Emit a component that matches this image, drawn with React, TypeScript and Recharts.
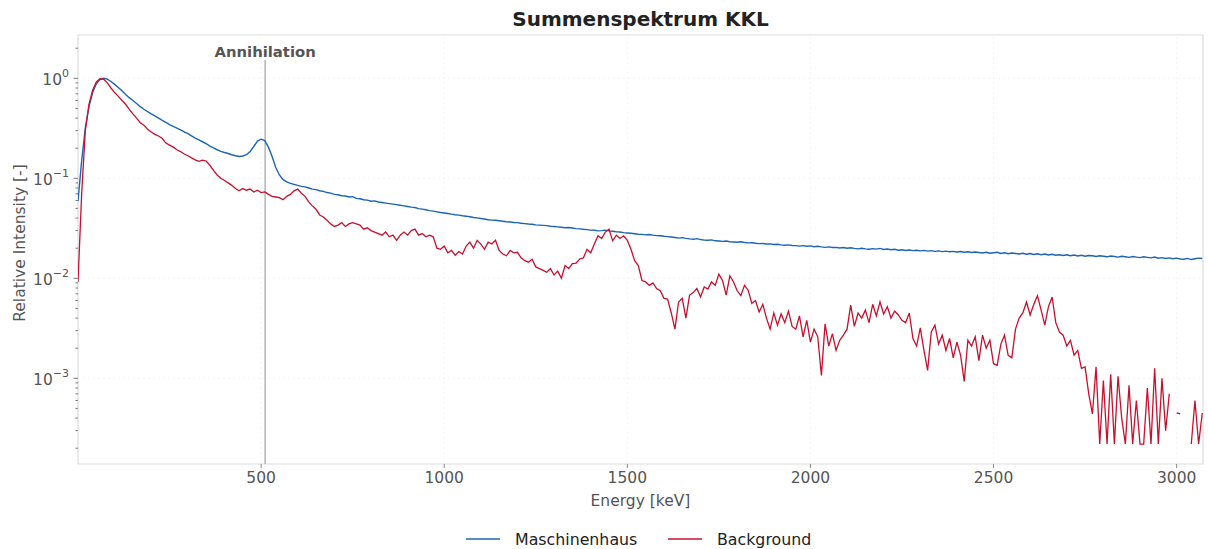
import React from 'react';
import { LineChart, Line, XAxis, YAxis, ReferenceLine, ReferenceArea } from 'recharts';

// Energy channels (keV): first channel and spacing
const ENERGY_START = 0;
const ENERGY_STEP = 10;

// Relative intensity, Maschinenhaus (one row = 100 keV)
const MASCHINENHAUS = [
  0.059, 0.15, 0.32, 0.52, 0.72, 0.88, 0.97, 1.0, 0.98, 0.93, // 0
  0.87, 0.81, 0.75, 0.69, 0.64, 0.6, 0.56, 0.52, 0.49, 0.465, // 100
  0.44, 0.42, 0.4, 0.38, 0.362, 0.345, 0.33, 0.318, 0.305, 0.292, // 200
  0.28, 0.266, 0.252, 0.242, 0.232, 0.222, 0.21, 0.201, 0.193, 0.186, // 300
  0.181, 0.177, 0.172, 0.168, 0.165, 0.167, 0.172, 0.185, 0.208, 0.236, // 400
  0.246, 0.238, 0.205, 0.165, 0.128, 0.108, 0.097, 0.092, 0.089, 0.087, // 500
  0.085, 0.083, 0.082, 0.08, 0.078, 0.077, 0.075, 0.074, 0.072, 0.071, // 600
  0.069, 0.0685, 0.067, 0.0665, 0.065, 0.0655, 0.063, 0.0625, 0.061, 0.0605, // 700
  0.059, 0.0595, 0.058, 0.0572, 0.0565, 0.0558, 0.0552, 0.0545, 0.0538, 0.053, // 800
  0.0522, 0.0515, 0.051, 0.0498, 0.0492, 0.0485, 0.0475, 0.047, 0.0462, 0.0455, // 900
  0.045, 0.0445, 0.0438, 0.0432, 0.0428, 0.0422, 0.0418, 0.0412, 0.0405, 0.0402, // 1000
  0.0396, 0.0392, 0.0385, 0.0382, 0.038, 0.0376, 0.0372, 0.0368, 0.0366, 0.0362, // 1100
  0.036, 0.0355, 0.0352, 0.0349, 0.0347, 0.0342, 0.034, 0.0338, 0.0336, 0.0332, // 1200
  0.033, 0.0327, 0.0324, 0.032, 0.0322, 0.0318, 0.0314, 0.0312, 0.0309, 0.0307, // 1300
  0.0303, 0.0302, 0.0298, 0.03, 0.0303, 0.0298, 0.0295, 0.0292, 0.029, 0.0286, // 1400
  0.0284, 0.0282, 0.0279, 0.0276, 0.0275, 0.0272, 0.0274, 0.027, 0.0267, 0.0266, // 1500
  0.0263, 0.0261, 0.0259, 0.0256, 0.0252, 0.0255, 0.0251, 0.0248, 0.0246, 0.0249, // 1600
  0.0244, 0.0241, 0.024, 0.0242, 0.0237, 0.0236, 0.0234, 0.0236, 0.0232, 0.0231, // 1700
  0.0229, 0.0232, 0.0228, 0.0226, 0.0227, 0.0224, 0.0222, 0.0223, 0.022, 0.0221, // 1800
  0.0218, 0.0219, 0.0216, 0.0214, 0.0216, 0.0213, 0.0212, 0.021, 0.0212, 0.0209, // 1900
  0.0211, 0.0207, 0.0209, 0.0206, 0.0204, 0.0206, 0.0203, 0.0204, 0.0201, 0.0203, // 2000
  0.02, 0.0202, 0.0199, 0.0197, 0.02, 0.0197, 0.0195, 0.0198, 0.0196, 0.0199, // 2100
  0.0194, 0.0196, 0.0193, 0.0195, 0.0191, 0.0193, 0.019, 0.0192, 0.0189, 0.0191, // 2200
  0.0188, 0.019, 0.0187, 0.0189, 0.0186, 0.0188, 0.0185, 0.0187, 0.0184, 0.0186, // 2300
  0.0183, 0.0185, 0.0182, 0.0184, 0.0181, 0.0183, 0.0181, 0.0179, 0.0182, 0.0178, // 2400
  0.018, 0.0182, 0.0177, 0.018, 0.0176, 0.0179, 0.0177, 0.0175, 0.0178, 0.0174, // 2500
  0.0177, 0.0173, 0.0176, 0.0172, 0.0175, 0.0171, 0.0174, 0.017, 0.0172, 0.0169, // 2600
  0.0172, 0.0168, 0.0171, 0.0167, 0.017, 0.0166, 0.0169, 0.0168, 0.0165, 0.0168, // 2700
  0.0166, 0.0164, 0.0167, 0.0165, 0.0163, 0.0166, 0.0164, 0.0162, 0.0165, 0.0163, // 2800
  0.0161, 0.0164, 0.0162, 0.016, 0.0163, 0.0159, 0.0161, 0.0158, 0.016, 0.0157, // 2900
  0.0159, 0.0156, 0.0155, 0.0158, 0.0154, 0.0157, 0.0159, 0.0158, // 3000
];

// Relative intensity, Background (null = empty channel, not drawn on log axis)
const BACKGROUND: (number | null)[] = [
  0.0092, 0.07, 0.3, 0.55, 0.76, 0.92, 0.99, 0.98, 0.9, 0.8, // 0
  0.72, 0.66, 0.6, 0.55, 0.49, 0.44, 0.4, 0.36, 0.34, 0.31, // 100
  0.29, 0.275, 0.265, 0.25, 0.225, 0.215, 0.205, 0.193, 0.185, 0.175, // 200
  0.168, 0.16, 0.153, 0.148, 0.152, 0.149, 0.135, 0.12, 0.108, 0.1, // 300
  0.095, 0.09, 0.085, 0.079, 0.075, 0.079, 0.076, 0.078, 0.073, 0.076, // 400
  0.072, 0.073, 0.069, 0.066, 0.065, 0.064, 0.061, 0.066, 0.069, 0.075, // 500
  0.078, 0.071, 0.066, 0.058, 0.053, 0.049, 0.043, 0.041, 0.038, 0.035, // 600
  0.033, 0.034, 0.036, 0.033, 0.035, 0.036, 0.035, 0.034, 0.031, 0.032, // 700
  0.03, 0.029, 0.028, 0.027, 0.029, 0.026, 0.027, 0.024, 0.027, 0.029, // 800
  0.027, 0.03, 0.031, 0.027, 0.028, 0.026, 0.027, 0.026, 0.02, 0.0195, // 900
  0.021, 0.018, 0.019, 0.017, 0.0185, 0.0175, 0.021, 0.023, 0.02, 0.024, // 1000
  0.022, 0.0195, 0.023, 0.022, 0.024, 0.019, 0.0175, 0.0168, 0.019, 0.018, // 1100
  0.0182, 0.016, 0.015, 0.0145, 0.0155, 0.013, 0.0125, 0.012, 0.0115, 0.0125, // 1200
  0.0108, 0.0118, 0.01, 0.0134, 0.0125, 0.014, 0.0142, 0.0156, 0.016, 0.0195, // 1300
  0.018, 0.022, 0.0266, 0.025, 0.029, 0.031, 0.0237, 0.027, 0.025, 0.0266, // 1400
  0.024, 0.0195, 0.015, 0.0134, 0.0095, 0.0092, 0.0085, 0.009, 0.0079, 0.0075, // 1500
  0.0063, 0.0062, 0.0045, 0.0031, 0.0058, 0.0063, 0.004, 0.0068, 0.0072, 0.0079, // 1600
  0.0065, 0.0082, 0.0078, 0.0092, 0.0085, 0.011, 0.0095, 0.0068, 0.0106, 0.0092, // 1700
  0.0075, 0.0067, 0.0085, 0.0076, 0.0056, 0.006, 0.0046, 0.0055, 0.004, 0.0031, // 1800
  0.0045, 0.0034, 0.0044, 0.0036, 0.0047, 0.0033, 0.0031, 0.0042, 0.0026, 0.0038, // 1900
  0.0023, 0.0031, 0.0026, 0.00107, 0.0035, 0.0021, 0.0028, 0.0019, 0.0024, 0.0027, // 2000
  0.0031, 0.0054, 0.0033, 0.0045, 0.004, 0.0048, 0.0036, 0.0055, 0.0042, 0.0058, // 2100
  0.0044, 0.0052, 0.004, 0.0047, 0.0043, 0.0038, 0.0036, 0.0045, 0.0025, 0.0021, // 2200
  0.0032, 0.0019, 0.0012, 0.0029, 0.0034, 0.0022, 0.0027, 0.0019, 0.0025, 0.0016, // 2300
  0.0023, 0.0017, 0.00093, 0.0024, 0.0021, 0.0026, 0.0015, 0.0027, 0.002, 0.0024, // 2400
  0.0014, 0.00135, 0.0022, 0.0027, 0.0017, 0.0016, 0.0031, 0.004, 0.0045, 0.0058, // 2500
  0.0043, 0.0055, 0.0067, 0.0048, 0.0034, 0.0052, 0.0065, 0.0036, 0.0029, 0.0027, // 2600
  0.0021, 0.0024, 0.0017, 0.0019, 0.00126, 0.0013, 0.0007, 0.00044, 0.0013, 0.00022, // 2700
  0.00095, 0.00022, 0.0011, 0.00022, 0.00105, 0.0004, 0.00022, 0.00085, 0.00022, 0.0006, // 2800
  0.00022, 0.00022, 0.0008, 0.00022, 0.00126, 0.00022, 0.001, 0.0003, 0.0007, null, // 2900
  0.00045, 0.00044, null, null, 0.00022, 0.0006, 0.00022, 0.00045, // 3000
];

const X_TICKS = [500, 1000, 1500, 2000, 2500, 3000];
const Y_MAJOR = [1e-3, 1e-2, 1e-1, 1];
const Y_MINOR = [
  2e-4, 3e-4, 4e-4, 5e-4, 6e-4, 7e-4, 8e-4, 9e-4,
  2e-3, 3e-3, 4e-3, 5e-3, 6e-3, 7e-3, 8e-3, 9e-3,
  2e-2, 3e-2, 4e-2, 5e-2, 6e-2, 7e-2, 8e-2, 9e-2,
  0.2, 0.3, 0.4, 0.5, 0.6, 0.7, 0.8, 0.9, 2,
];
const X_DOMAIN: [number, number] = [0, 3072];
const Y_DOMAIN: [number, number] = [1.39e-4, 2.71];
const ANNIHILATION_KEV = 511;
const ANNIHILATION_TOP = 1.52;

const BLUE = '#1c64b4';
const RED = '#c8102e';
const TEXT = '#555555';
const FONT = '"DejaVu Sans", sans-serif';

const data = MASCHINENHAUS.map((v, i) => ({
  energy: ENERGY_START + i * ENERGY_STEP,
  maschinenhaus: v,
  background: BACKGROUND[i] ?? null,
}));

const yTicks = [...Y_MINOR, ...Y_MAJOR].sort((a, b) => a - b);

const YTick = (props: any) => {
  const { x, y, payload } = props;
  const v = payload.value as number;
  const lg = Math.log10(v);
  const exp = Math.round(lg);
  const major = Math.abs(lg - exp) < 1e-6;
  return (
    <g>
      <line x1={x - (major ? 4.5 : 2.5)} x2={x} y1={y} y2={y} stroke="#777" strokeWidth={1} />
      {major && (
        <text x={x - 9} y={y + 7} textAnchor="end" fill={TEXT} fontSize={15.5} fontFamily={FONT}>
          10
          <tspan dy={-8} fontSize={11}>{exp === 0 ? '0' : '\u2212' + String(-exp)}</tspan>
        </text>
      )}
    </g>
  );
};

const AnnLabel = (props: any) => {
  const vb = props.viewBox || {};
  return (
    <text x={vb.x} y={(vb.y ?? 60) - 3} textAnchor="middle" fill={TEXT} fontSize={14.8} fontWeight="bold" fontFamily={FONT}>
      Annihilation
    </text>
  );
};

export default function App() {
  return (
    <div style={{ position: 'absolute', left: 0, top: 0, width: 1208, height: 549, background: '#fff', fontFamily: FONT }}>
      <LineChart width={1208} height={549} data={data} margin={{ top: 35, right: 5, bottom: 35, left: 0 }}>
        <XAxis
          dataKey="energy"
          type="number"
          domain={X_DOMAIN}
          allowDataOverflow
          ticks={X_TICKS}
          interval={0}
          height={50}
          axisLine={false}
          tickLine={{ stroke: '#888' }}
          tickSize={4}
          tickMargin={4}
          tick={{ fill: TEXT, fontSize: 15.5, fontFamily: FONT }}
        />
        <YAxis
          type="number"
          scale="log"
          domain={Y_DOMAIN}
          allowDataOverflow
          ticks={yTicks}
          interval={0}
          width={78}
          axisLine={false}
          tickLine={false}
          tickSize={0}
          tickMargin={0}
          tick={<YTick />}
        />
        {Y_MAJOR.map((v) => (
          <ReferenceLine key={'gy' + v} y={v} stroke="#efefef" strokeDasharray="2 3" strokeWidth={0.7} />
        ))}
        {X_TICKS.map((v) => (
          <ReferenceLine key={'gx' + v} x={v} stroke="#efefef" strokeDasharray="2 3" strokeWidth={0.7} />
        ))}
        <ReferenceArea x1={X_DOMAIN[0]} x2={X_DOMAIN[1]} y1={Y_DOMAIN[0]} y2={Y_DOMAIN[1]} fill="none" stroke="#dddddd" strokeWidth={1.2} fillOpacity={0} />
        <ReferenceLine
          segment={[{ x: ANNIHILATION_KEV, y: ANNIHILATION_TOP }, { x: ANNIHILATION_KEV, y: Y_DOMAIN[0] }]}
          stroke="#b4b4b4"
          strokeWidth={1.5}
          label={<AnnLabel />}
        />
        <Line dataKey="maschinenhaus" stroke={BLUE} strokeWidth={1.4} dot={false} isAnimationActive={false} type="linear" />
        <Line dataKey="background" stroke={RED} strokeWidth={1.3} dot={false} isAnimationActive={false} type="linear" />
      </LineChart>
      <svg width={1208} height={549} style={{ position: 'absolute', left: 0, top: 0, pointerEvents: 'none' }}>
        <text x={640.5} y={26} textAnchor="middle" fontWeight="bold" fontSize={20} fill="#222" fontFamily={FONT}>
          Summenspektrum KKL
        </text>
        <text x={640.5} y={506} textAnchor="middle" fontSize={15.5} fill={TEXT} fontFamily={FONT}>
          Energy [keV]
        </text>
        <text transform="translate(25,243) rotate(-90)" textAnchor="middle" fontSize={15.5} fill={TEXT} fontFamily={FONT}>
          Relative Intensity [-]
        </text>
        <line x1={466} x2={500} y1={539} y2={539} stroke={BLUE} strokeWidth={1.6} />
        <text x={515} y={544.5} fontSize={15.8} fill="#222" fontFamily={FONT}>Maschinenhaus</text>
        <line x1={668} x2={702} y1={539} y2={539} stroke={RED} strokeWidth={1.6} />
        <text x={717} y={544.5} fontSize={15.8} fill="#222" fontFamily={FONT}>Background</text>
      </svg>
    </div>
  );
}
